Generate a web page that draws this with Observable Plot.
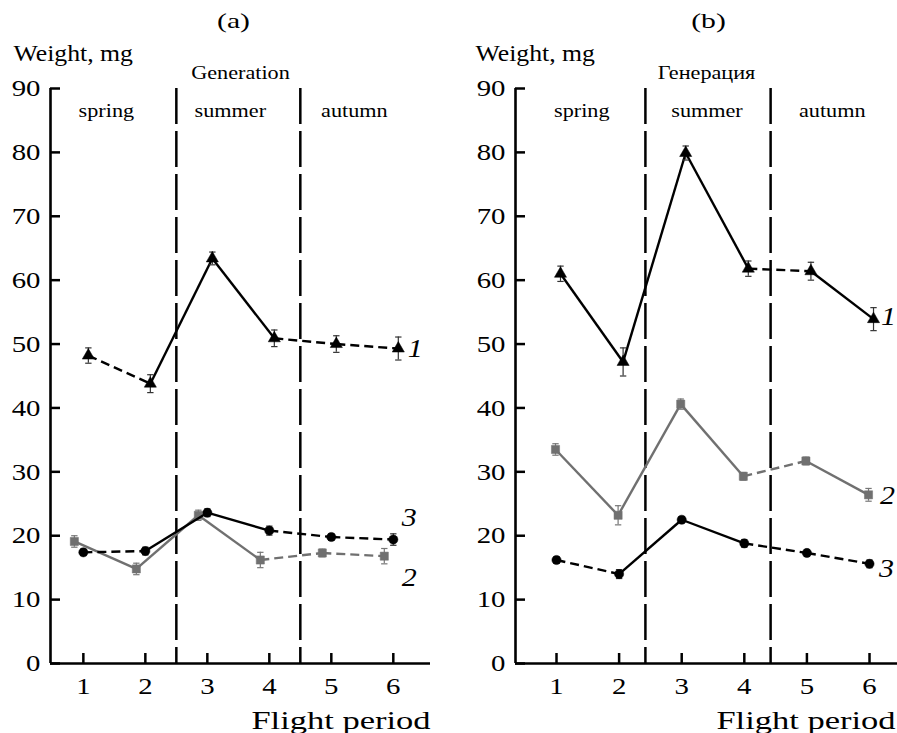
<!DOCTYPE html>
<html><head><meta charset="utf-8">
<script src="https://cdn.jsdelivr.net/npm/d3@7"></script>
<script src="https://cdn.jsdelivr.net/npm/@observablehq/plot@0.6"></script>
<style>
body{margin:0;background:#fff;}
#wrap{display:flex;width:897px;height:733px;overflow:hidden;}
svg text{font-family:"Liberation Serif","Times New Roman",serif;}
</style></head><body><div id="wrap"></div>
<script>
// ---------- data ----------
const periods = [1, 2, 3, 4, 5, 6];
const yTicks = [0, 10, 20, 30, 40, 50, 60, 70, 80, 90];
const seasons = ["spring", "summer", "autumn"];
const seasonPeriods = [[1, 2], [3, 4], [5, 6]];
const generationBoundaries = [2.5, 4.5];
const seriesLabels = ["1", "2", "3"];

// panel (a)
const aWeight1 = [48.2, 43.8, 63.4, 50.9, 50.0, 49.3];
const aError1  = [1.2, 1.4, 1.0, 1.3, 1.3, 1.8];
const aSolid1  = [false, true, true, false, false];
const aWeight2 = [19.1, 14.8, 23.2, 16.2, 17.3, 16.8];
const aError2  = [0.9, 0.9, 0.8, 1.2, 0.6, 1.2];
const aSolid2  = [true, true, true, false, false];
const aWeight3 = [17.4, 17.6, 23.6, 20.8, 19.8, 19.4];
const aError3  = [0.5, 0.6, 0.6, 0.7, 0.5, 0.9];
const aSolid3  = [false, true, true, false, false];

// panel (b)
const bWeight1 = [61.0, 47.2, 79.9, 61.8, 61.4, 53.9];
const bError1  = [1.2, 2.2, 1.1, 1.2, 1.4, 1.8];
const bSolid1  = [true, true, true, false, true];
const bWeight2 = [33.5, 23.2, 40.6, 29.3, 31.7, 26.4];
const bError2  = [0.9, 1.5, 0.8, 0.6, 0.6, 1.0];
const bSolid2  = [true, true, true, false, true];
const bWeight3 = [16.2, 14.0, 22.5, 18.8, 17.3, 15.6];
const bError3  = [0.5, 0.7, 0.5, 0.6, 0.5, 0.6];
const bSolid3  = [false, true, true, false, false];

// ---------- drawing ----------
const DEFAULT_TEXT_SCALE = 1.2;
const textScale = {"Flight period": 1.38, "Weight, mg": 1.12, "(a)": 1.35, "(b)": 1.35};
const capSymbol = {draw(ctx, size) { const w = Math.sqrt(size) / 2; ctx.moveTo(-w, 0); ctx.lineTo(w, 0); }};

function makePanel(cfg) {
  const H = 733, MT = 88, MB = 70;
  const innerW = cfg.width - cfg.marginLeft - cfg.marginRight;
  const innerH = H - MT - MB;
  const marks = [];

  // generation boundaries
  marks.push(Plot.ruleX(generationBoundaries, {x: d => d, dx: cfg.boundaryDx, stroke: "#000", strokeWidth: 2.5, strokeDasharray: "36,7"}));

  // series
  cfg.series.forEach((s, k) => {
    const pts = periods.map((p, i) => ({x: p, y: s.values[i], e: s.errors[i]}));
    const segs = s.solid.map((g, i) => ({x1: periods[i], y1: s.values[i], x2: periods[i + 1], y2: s.values[i + 1], solid: g}));
    const common = {x1: "x1", y1: "y1", x2: "x2", y2: "y2", dx: s.dx, stroke: s.color, strokeWidth: 2.4};
    marks.push(Plot.link(segs.filter(d => d.solid), common));
    marks.push(Plot.link(segs.filter(d => !d.solid), {...common, strokeDasharray: "9,5"}));
    marks.push(Plot.ruleX(pts, {x: "x", y1: d => d.y - d.e, y2: d => d.y + d.e, dx: s.dx, stroke: s.errColor, strokeWidth: 1.2}));
    marks.push(Plot.dot(pts, {x: "x", y: d => d.y - d.e, dx: s.dx, symbol: capSymbol, r: 3.6, fill: "none", stroke: s.errColor, strokeWidth: 1.2}));
    marks.push(Plot.dot(pts, {x: "x", y: d => d.y + d.e, dx: s.dx, symbol: capSymbol, r: 3.6, fill: "none", stroke: s.errColor, strokeWidth: 1.2}));
    marks.push(Plot.dot(pts, {x: "x", y: "y", dx: s.dx, symbol: s.symbol, r: s.r, fill: s.color, stroke: s.color, strokeWidth: 0.5}));
    marks.push(Plot.text([seriesLabels[k]], {x: periods[periods.length - 1], y: s.values[s.values.length - 1], dx: s.labelDx, dy: s.labelDy,
      text: d => d, fontSize: 25, fontStyle: "italic", fill: "#000", textAnchor: "middle", lineAnchor: "middle"}));
  });

  // axes
  marks.push(Plot.ruleY([0], {stroke: "#000", strokeWidth: 2.6}));
  marks.push(Plot.ruleX([cfg.xDomain[0]], {y1: 0, y2: 90, stroke: "#000", strokeWidth: 2.6}));
  marks.push(Plot.tickY(yTicks, {y: d => d, insetRight: innerW - 10, stroke: "#000", strokeWidth: 2.5}));
  marks.push(Plot.tickX(periods, {x: d => d, insetTop: innerH - 10, stroke: "#000", strokeWidth: 2.5}));
  marks.push(Plot.axisY(yTicks, {tickSize: 0, tickPadding: 10, fontSize: 24, fill: "#000"}));
  marks.push(Plot.axisX(periods, {tickSize: 0, tickPadding: 13, fontSize: 24, fill: "#000"}));

  // texts
  marks.push(Plot.text(seasons, {x: (d, i) => d3.mean(seasonPeriods[i]), frameAnchor: "top", dy: 23, dx: cfg.seasonDx,
    text: d => d, fontSize: 18.5, fill: "#000", lineAnchor: "middle"}));
  marks.push(Plot.text([cfg.generation], {frameAnchor: "top", dx: cfg.genDx, dy: -15, text: d => d, fontSize: 18.5, fill: "#000", lineAnchor: "middle"}));
  marks.push(Plot.text([cfg.title], {frameAnchor: "top", dx: cfg.titleDx, dy: -68, text: d => d, fontSize: 22, fill: "#000", lineAnchor: "middle"}));
  marks.push(Plot.text(["Weight, mg"], {frameAnchor: "top-left", dx: cfg.weightDx, dy: -35, text: d => d, fontSize: 23, fill: "#000", textAnchor: "start", lineAnchor: "middle"}));
  marks.push(Plot.text(["Flight period"], {frameAnchor: "bottom-right", dx: cfg.flightDx, dy: 57, text: d => d, fontSize: 25, fill: "#000", textAnchor: "end", lineAnchor: "middle"}));

  const svg = Plot.plot({
    width: cfg.width, height: H,
    marginLeft: cfg.marginLeft, marginRight: cfg.marginRight, marginTop: MT, marginBottom: MB,
    x: {domain: cfg.xDomain, axis: null},
    y: {domain: [0, 90], axis: null},
    style: {fontFamily: "'Liberation Serif', 'Times New Roman', serif", background: "#fff", overflow: "visible", color: "#000"},
    marks
  });
  svg.querySelectorAll("text").forEach(t => {
    const s = textScale[t.textContent.trim()] ?? DEFAULT_TEXT_SCALE;
    const x = parseFloat(t.getAttribute("x") || "0") || 0;
    const tr = t.getAttribute("transform") || "";
    t.setAttribute("transform", `${tr} translate(${x},0) scale(${s},1) translate(${-x},0)`);
  });
  return svg;
}

const black = "#000", gray = "#707070";
const panelA = makePanel({
  title: "(a)", generation: "Generation", width: 448, marginLeft: 50, marginRight: 18, xDomain: [0.47, 6.6],
  boundaryDx: 0, seasonDx: -8, genDx: 0, titleDx: -7, weightDx: -37, flightDx: 0,
  series: [
    {values: aWeight1, errors: aError1, solid: aSolid1, color: black, errColor: "#333", symbol: "triangle", r: 4.5, dx: 5, labelDx: 22, labelDy: 0},
    {values: aWeight2, errors: aError2, solid: aSolid2, color: gray, errColor: "#777", symbol: "square", r: 4.6, dx: -9, labelDx: 16, labelDy: 22},
    {values: aWeight3, errors: aError3, solid: aSolid3, color: black, errColor: "#333", symbol: "circle", r: 4.6, dx: 0, labelDx: 16, labelDy: -22}
  ]
});
const panelB = makePanel({
  title: "(b)", generation: "Генерация", width: 449, marginLeft: 67, marginRight: 0, xDomain: [0.345, 6.447],
  boundaryDx: -5, seasonDx: -6, genDx: 0, titleDx: 2, weightDx: -40, flightDx: -2,
  series: [
    {values: bWeight1, errors: bError1, solid: bSolid1, color: black, errColor: "#333", symbol: "triangle", r: 4.5, dx: 4, labelDx: 19, labelDy: -2},
    {values: bWeight2, errors: bError2, solid: bSolid2, color: gray, errColor: "#777", symbol: "square", r: 4.6, dx: -1, labelDx: 18, labelDy: 1},
    {values: bWeight3, errors: bError3, solid: bSolid3, color: black, errColor: "#333", symbol: "circle", r: 4.6, dx: 0, labelDx: 17, labelDy: 5}
  ]
});
document.getElementById("wrap").append(panelA, panelB);
</script>
</body></html>
